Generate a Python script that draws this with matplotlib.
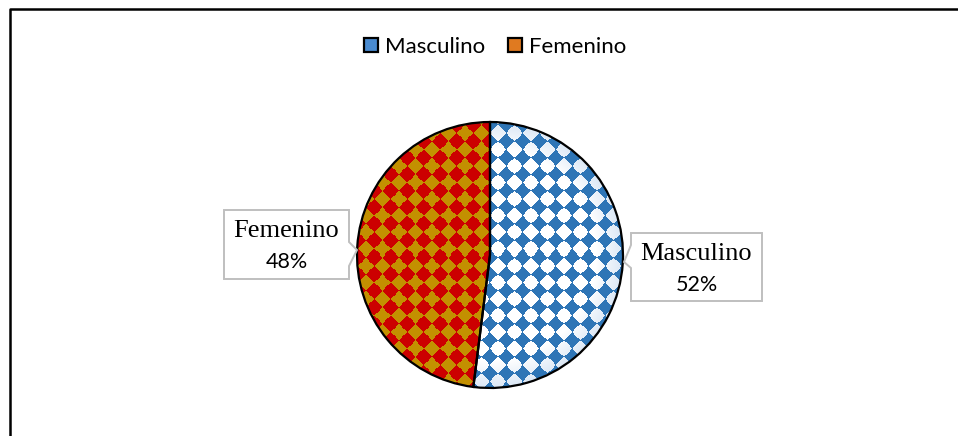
import numpy as np
import matplotlib
matplotlib.use('Agg')
import matplotlib.pyplot as plt
from matplotlib.patches import Patch, Polygon
from matplotlib.lines import Line2D

# datos de la grafica
labels = ['Masculino', 'Femenino']
values = [52, 48]

W, H = 958, 436
fig = plt.figure(figsize=(W / 100, H / 100), dpi=100)
ax = fig.add_axes([0, 0, 1, 1])

cx, cy, R = 490, H - 255, 133

wedges, _ = ax.pie(values, startangle=90, counterclock=False,
                   center=(cx, cy), radius=R,
                   wedgeprops=dict(facecolor='none', edgecolor='black',
                                   linewidth=1.6, zorder=3))

# textura de rombos para cada sector
def to_rgb(h):
    return np.array(matplotlib.colors.to_rgb(h))

n = 2 * R + 6
x0, y0 = cx - R - 3, cy - R - 3
xx, yy = np.meshgrid(np.arange(n) + x0 + 0.5, np.arange(n) + y0 + 0.5)
s = 16.5
dx = np.mod(xx - 3, s) - s / 2
dy = np.mod(yy - 5, s) - s / 2
rr = np.hypot(xx - cx, yy - cy) / R

# masculino: rombos azules sobre blanco, borde azulado
d_m = (np.abs(dx) ** 0.85 + np.abs(dy) ** 0.85) ** (1 / 0.85)
blue = d_m < 8.9
rim = np.clip((rr - 0.8) / 0.2, 0, 1)[..., None]
bg = (1 - rim * 0.25) * to_rgb('#ffffff') + rim * 0.25 * to_rgb('#6fa0d8')
img_m = np.where(blue[..., None], to_rgb('#2e75b6'), bg)

# femenino: rombos rojos sobre dorado
d_f = (np.abs(dx) ** 1.05 + np.abs(dy) ** 1.05) ** (1 / 1.05)
red = d_f < s / 2
img_f = np.where(red[..., None], to_rgb('#cc0000'), to_rgb('#c39000'))

for w, img in zip(wedges, [img_m, img_f]):
    im = ax.imshow(img, extent=(x0, x0 + n, y0, y0 + n), origin='lower',
                   interpolation='nearest', zorder=2)
    im.set_clip_path(w)

# etiquetas con globo
boxes = [
    # (izq, arriba, der, abajo), punta, lado
    ((631, 233, 762, 301), (624, 262), 'left', (245, 268)),
    ((224, 210, 349, 279), (357, 250), 'right', (242, 266)),
]
for lab, val, (box, tip, side, tab) in zip(labels, values, boxes):
    l, t, r, b = box
    if side == 'left':
        pts = [(l, t), (r, t), (r, b), (l, b), (l, tab[1]), tip, (l, tab[0])]
    else:
        pts = [(l, t), (r, t), (r, tab[0]), tip, (r, tab[1]), (r, b), (l, b)]
    pts = [(px, H - py) for px, py in pts]
    ax.add_patch(Polygon(pts, closed=True, facecolor='white',
                         edgecolor='#bfbfbf', linewidth=1.4, zorder=4))
    xm = (l + r) / 2
    ax.text(xm, H - (t + 21), lab, ha='center', va='center',
            family='Liberation Serif', fontsize=19, color='black', zorder=5)
    ax.text(xm, H - (t + 52), f'{val}%', ha='center', va='center',
            family='Lato', fontsize=15.5, color='black', zorder=5)

ax.set_xlim(0, W)
ax.set_ylim(0, H)
ax.set_aspect('auto')
ax.axis('off')

# leyenda superior
handles = [Patch(facecolor='#4a8bd0', edgecolor='black', linewidth=1.6),
           Patch(facecolor='#e07a20', edgecolor='black', linewidth=1.6)]
fig.legend(handles, labels, loc='center', bbox_to_anchor=(495 / W, 1 - 47 / H),
           ncol=2, frameon=False, prop=dict(family='Lato', size=16),
           handlelength=0.62, handleheight=0.62, handletextpad=0.3,
           columnspacing=1.05)

# marco del area del grafico
fig.add_artist(Line2D([9.5 / W, 9.5 / W, 1], [0, 1 - 9.5 / H, 1 - 9.5 / H],
                      transform=fig.transFigure, color='black', linewidth=1.8))

fig.savefig('out.png', dpi=100)
